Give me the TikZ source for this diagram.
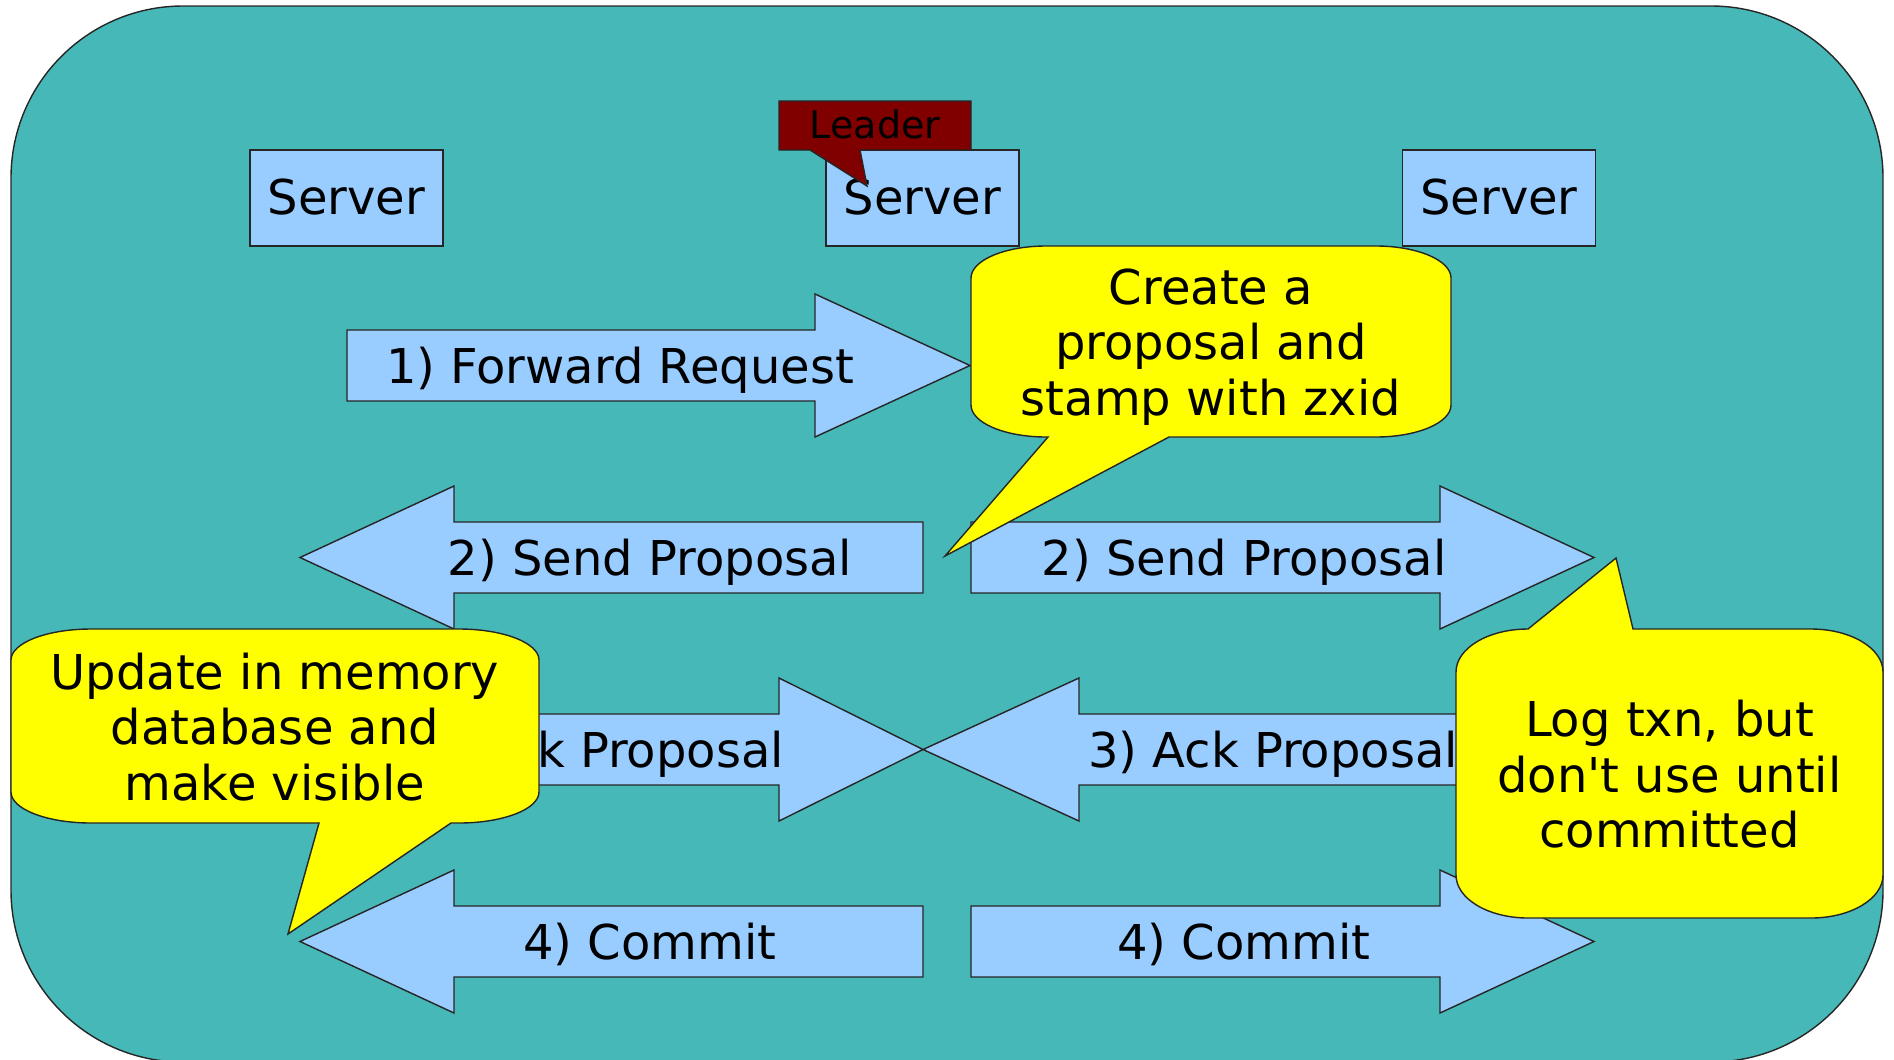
\documentclass[tikz,border=0pt]{standalone}
\usepackage{fontspec}
\setmainfont{DejaVu Sans}
\usepackage{xcolor}
\usepackage{tikz}

\definecolor{bgteal}{RGB}{71,184,184}
\definecolor{boxblue}{RGB}{153,204,255}
\definecolor{noteyellow}{RGB}{255,255,0}
\definecolor{leadred}{RGB}{128,0,0}
\newcommand{\lostrut}{\rule[-0.23em]{0pt}{1.15em}}
% block arrow: shaft end, head base, tip, middle y
\newcommand{\flowarrow}[4]{\draw[blockarrow] (#1,#4+0.355) -- (#2,#4+0.355) -- (#2,#4+0.715) -- (#3,#4) -- (#2,#4-0.715) -- (#2,#4-0.355) -- (#1,#4-0.355) -- cycle;}

\begin{document}
\begin{tikzpicture}[
  outline/.style={draw=black!85, line width=0.4pt},
  blockarrow/.style={outline, fill=boxblue},
  note/.style={outline, fill=noteyellow},
  txt/.style={font=\fontsize{13.66}{15.8}\selectfont, inner sep=0pt, align=center,
    execute at begin node=\lostrut, execute at end node=\lostrut},
  server/.style={txt, outline, fill=boxblue, minimum width=1.93cm, minimum height=0.96cm}]
\useasboundingbox (0,0) rectangle (18.94,-10.59);
\draw[outline, fill=bgteal, rounded corners=1.72cm] (0.11,-0.06) rectangle (18.83,-10.62);

\node[server] (srvA) at (3.465,-1.98) {Server};
\node[server] (srvB) at (9.225,-1.98) {Server};
\node[server] (srvC) at (14.99,-1.98) {Server};
\draw[outline, fill=leadred] (7.79,-1.01) -- (9.71,-1.01) -- (9.71,-1.50) -- (8.60,-1.50) -- (8.67,-1.86) -- (8.10,-1.50) -- (7.79,-1.50) -- cycle;
\node[txt, font=\fontsize{10.8}{12.6}\selectfont] (lead) at (8.75,-1.255) {Leader};

\flowarrow{3.47}{8.15}{9.70}{-3.655}
\node[txt] (fwd) at (6.20,-3.665) {1) Forward Request};
\flowarrow{9.23}{4.54}{3.00}{-5.575}
\node[txt] (propL) at (6.50,-5.585) {2) Send Proposal};
\flowarrow{9.71}{14.40}{15.94}{-5.575}
\node[txt] (propR) at (12.44,-5.585) {2) Send Proposal};
\flowarrow{3.00}{7.79}{9.23}{-7.495}
\node[txt] (ackL) at (5.99,-7.505) {3) Ack Proposal};
\flowarrow{15.94}{10.79}{9.23}{-7.495}
\node[txt] (ackR) at (12.73,-7.505) {3) Ack Proposal};
\flowarrow{9.23}{4.54}{3.00}{-9.415}
\node[txt] (comL) at (6.50,-9.425) {4) Commit};
\flowarrow{9.71}{14.40}{15.94}{-9.415}
\node[txt] (comR) at (12.44,-9.425) {4) Commit};

\draw[note] (9.71,-2.78) arc[start angle=180, end angle=90, x radius=0.75, y radius=0.32] -- (13.76,-2.46) arc[start angle=90, end angle=0, x radius=0.75, y radius=0.32] -- (14.51,-4.05) arc[start angle=0, end angle=-90, x radius=0.75, y radius=0.32] -- (11.69,-4.37) -- (9.45,-5.56) -- (10.48,-4.37) -- (10.46,-4.37) arc[start angle=-90, end angle=-180, x radius=0.75, y radius=0.32] -- cycle;
\node[txt] (note1) at (12.11,-3.475) {Create a\\proposal and\\stamp with zxid};

\draw[note] (0.11,-6.60) arc[start angle=180, end angle=90, x radius=0.8, y radius=0.31] -- (4.59,-6.29) arc[start angle=90, end angle=0, x radius=0.8, y radius=0.31] -- (5.39,-7.92) arc[start angle=0, end angle=-90, x radius=0.8, y radius=0.31] -- (4.51,-8.23) -- (2.88,-9.34) -- (3.19,-8.23) -- (0.91,-8.23) arc[start angle=-90, end angle=-180, x radius=0.8, y radius=0.31] -- cycle;
\node[txt] (note2) at (2.75,-7.32) {Update in memory\\database and\\make visible};

\draw[note] (14.56,-6.72) arc[start angle=180, end angle=90, x radius=0.72, y radius=0.43] -- (16.16,-5.58) -- (16.33,-6.29) -- (18.11,-6.29) arc[start angle=90, end angle=0, x radius=0.72, y radius=0.43] -- (18.83,-8.75) arc[start angle=0, end angle=-90, x radius=0.72, y radius=0.43] -- (15.28,-9.18) arc[start angle=-90, end angle=-180, x radius=0.72, y radius=0.43] -- cycle;
\node[txt] (note3) at (16.695,-7.795) {Log txn, but\\don\textquotesingle t use until\\committed};
\end{tikzpicture}
\end{document}
